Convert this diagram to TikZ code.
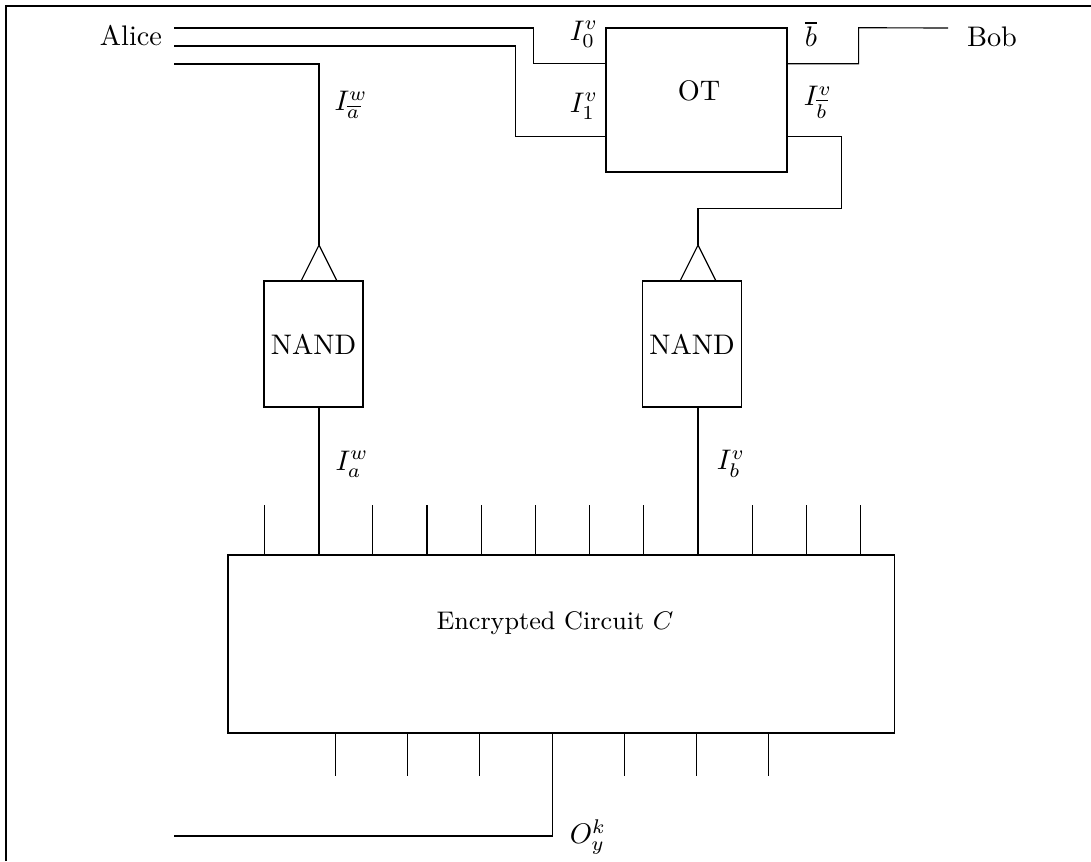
\documentclass[tikz,border=0pt]{standalone}
\usepackage{amsmath,amssymb}
\usepackage{tikz}
\usetikzlibrary{positioning,calc}

\begin{document}
\begin{tikzpicture}[x=0.3534pt, y=-0.3534pt,
    gate/.style={draw, rectangle, inner sep=0pt}]
  \useasboundingbox (0,0) rectangle (1091,861);
  % Frame
  \draw[thick] (6,861) -- (6,6) -- (1091,6);

  % Boxes
  \node[gate, minimum width=64pt, minimum height=50.9pt] (ot) at (696.5,100) {};
  \node (otname) at (699,91) {OT};
  \node[gate, minimum width=35pt, minimum height=44.5pt] (nandA) at (313.5,344) {NAND};
  \node[gate, minimum width=35pt, minimum height=44.5pt] (nandB) at (692,344) {NAND};
  \node[gate, minimum width=235.4pt, minimum height=62.9pt] (circ) at (561,644) {};
  \node (circname) at (555,623) {\small Encrypted Circuit $C$};

  % Parties
  \node[anchor=east] (alice) at (172,36) {Alice};
  \node[anchor=west] (bob) at (957,37) {Bob};
  \coordinate (a0) at (174,28);
  \coordinate (a1) at (174,46);
  \coordinate (a2) at (174,64);
  \coordinate (b0) at (948,28);

  % OT ports and fan-in tips
  \coordinate (otin0) at ($(ot.north west)!0.25!(ot.south west)$);
  \coordinate (otin1) at ($(ot.north west)!0.75!(ot.south west)$);
  \coordinate (otout0) at ($(ot.north east)!0.25!(ot.south east)$);
  \coordinate (otout1) at ($(ot.north east)!0.75!(ot.south east)$);
  \coordinate (tipA) at (319,245);
  \coordinate (tipB) at (698,245);

  % Wires
  \draw (a0) -| ($(otin0)+(-72,0)$) -- (otin0);
  \draw (a1) -| ($(otin1)+(-90,0)$) -- (otin1);
  \draw (a2) -| (tipA);
  \draw (otout0) -| ($(otout0)+(71,-36)$) -- (b0);
  \draw (otout1) -| ($(otout1)+(54,72)$) -| (tipB);
  \draw ($(tipA)+(-18,36)$) -- (tipA) -- ($(tipA)+(18,36)$);
  \draw ($(tipB)+(-18,36)$) -- (tipB) -- ($(tipB)+(18,36)$);
  \draw (tipA |- nandA.south) -- (tipA |- circ.north);
  \draw (tipB |- nandB.south) -- (tipB |- circ.north);

  % Circuit pins
  \foreach \i in {0,2,3,4,5,6,7,9,10,11}
    \draw ($(circ.north west)+(37+54.2*\i,0)$) -- ++(0,-49);
  \foreach \i in {0,1,2,4,5,6}
    \draw ($(circ.south west)+(108+72.2*\i,0)$) -- ++(0,42);
  \coordinate (cout) at ($(circ.south west)+(325,0)$);
  \coordinate (oend) at (174,836);
  \draw (cout) |- (oend);

  % Labels
  \node (lIv0) at (584,34) {$I_0^v$};
  \node (lIv1) at (584,106) {$I_1^v$};
  \node (lbbar) at (811,34) {$\overline{b}$};
  \node (lIvbbar) at (818,102) {$I_{\overline{b}}^v$};
  \node (lIwabar) at (351,105) {$I_{\overline{a}}^w$};
  \node (lIwa) at (352,464) {$I_a^w$};
  \node (lIvb) at (731,464) {$I_b^v$};
  \node (lOky) at (588,837) {$O_y^k$};
\end{tikzpicture}
\end{document}
